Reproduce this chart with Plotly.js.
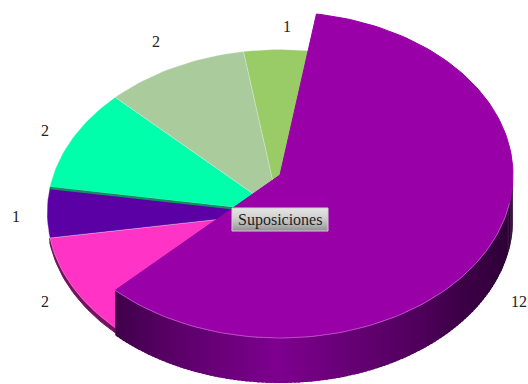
<!DOCTYPE html>
<html>
<head>
<meta charset="utf-8">
<script src="https://cdn.plot.ly/plotly-3.0.1.min.js"></script>
<style>html,body{margin:0;padding:0;background:#fff}#chart{width:528px;height:384px}</style>
</head>
<body>
<div id="chart"></div>
<script>
// Slice values, clockwise from the pulled-out slice
const values = [12, 2, 1, 2, 2, 1];
const colors = ['#9900A8', '#FF33C6', '#5A00A4', '#00FFAA', '#AACC9C', '#99CC66'];
const centerLabel = 'Suposiciones';
// Where each value label sits
const labelX = [519, 45, 16, 45, 156, 287];
const labelY = [301, 301, 216, 130, 41, 26];

// Tilted pie geometry, in axis units (the axes span the page one to one)
const CX = 280, CY = 212.5, RX = 233, RY = 163;
const PULL_Y = -37.5;      // pulled-out slice moves straight up
const DEPTH = 45;          // wall height of the pulled-out slice
const RIM = 5;             // wall height of the resting slices
const START = 9;           // degrees clockwise from the top

const total = values.reduce((a, b) => a + b, 0);
const rad = d => d * Math.PI / 180;
const px = d => CX + RX * Math.sin(rad(d));
const py = (d, dy) => CY + dy - RY * Math.cos(rad(d));

function arc(a, b, dy) {
  const xs = [], ys = [];
  const n = Math.max(2, Math.ceil(Math.abs(b - a) / 1.5));
  for (let i = 0; i <= n; i++) {
    const t = a + (b - a) * i / n;
    xs.push(px(t)); ys.push(py(t, dy));
  }
  return {xs, ys};
}
function poly(xs, ys, fill, line, width) {
  return {type: 'scatter', mode: 'lines', x: xs, y: ys, fill: 'toself', fillcolor: fill,
          line: {color: line || fill, width: width === undefined ? 1 : width}, hoverinfo: 'skip', showlegend: false};
}
function stroke(xs, ys, color, width) {
  return {type: 'scatter', mode: 'lines', x: xs, y: ys, line: {color, width}, hoverinfo: 'skip', showlegend: false};
}
function wedge(a, b, dy, fill, line, width) {
  const r = arc(a, b, dy);
  return poly([CX, ...r.xs, CX], [CY + dy, ...r.ys, CY + dy], fill, line, width);
}
function wall(a, b, top, bottom, color, width) {
  const t = arc(a, b, top), u = arc(b, a, bottom);
  return poly([...t.xs, ...u.xs, t.xs[0]], [...t.ys, ...u.ys, t.ys[0]], color, color, width);
}
// Wall shade: dark at both ends, brightest near the front
function wallShade(d) {
  const stops = [[90, [38, 0, 44]], [130, [62, 0, 72]], [180, [125, 0, 142]], [205, [92, 0, 106]], [225, [62, 0, 72]]];
  for (let i = 1; i < stops.length; i++) {
    if (d <= stops[i][0]) {
      const f = (d - stops[i - 1][0]) / (stops[i][0] - stops[i - 1][0]);
      const c = stops[i - 1][1].map((v, k) => Math.round(v + (stops[i][1][k] - v) * f));
      return `rgb(${c[0]},${c[1]},${c[2]})`;
    }
  }
  return 'rgb(62,0,72)';
}

// Angular span of every slice
const spans = [];
let angle = START;
values.forEach(v => { spans.push([angle, angle + v / total * 360]); angle += v / total * 360; });

const traces = [];

// Resting slices: thin rim of the lower-left slice, then the top faces
traces.push(wall(spans[1][0], spans[1][1], 0, RIM, '#74105F', 1));
for (let i = 1; i < values.length; i++) {
  traces.push(wedge(spans[i][0], spans[i][1], 0, colors[i], 'rgba(235,240,235,0.4)', 0.8));
}
// Cut face showing along the edge of the mint slice
const seam = spans[3][0];
traces.push(stroke([px(seam), CX], [py(seam, 0) + 1, CY + 1], '#0E8F63', 2.4));

// Pulled-out slice: shaded wall strips, then its top face
const wallFrom = 90, wallTo = spans[0][1], step = 1;
for (let d = wallFrom; d < wallTo; d += step) {
  traces.push(wall(d, Math.min(d + step * 1.6, wallTo), PULL_Y, PULL_Y + DEPTH, wallShade(d), 0));
}
traces.push(wedge(spans[0][0], spans[0][1], PULL_Y, colors[0]));
const front = arc(100, spans[0][1], PULL_Y);
traces.push(stroke(front.xs, front.ys, 'rgba(240,190,240,0.55)', 0.7));

const annotations = values.map((v, i) => ({
  x: labelX[i], y: labelY[i], xref: 'x', yref: 'y', text: String(v), showarrow: false,
  font: {family: '"Liberation Serif", serif', size: 16, color: '#222'}
}));
annotations.push({
  x: 280, y: 220, xref: 'x', yref: 'y', text: centerLabel, showarrow: false,
  font: {family: '"Liberation Serif", serif', size: 16, color: '#222'}
});

// Label plate with a vertical grey gradient
const shapes = [];
const plateTop = 208, plateBottom = 231, plateLeft = 232, plateRight = 328;
for (let y = plateTop; y < plateBottom; y++) {
  const f = (y - plateTop) / (plateBottom - plateTop - 1);
  const g = Math.round(226 - 60 * f * f - 20 * f);
  shapes.push({type: 'rect', xref: 'x', yref: 'y', x0: plateLeft, x1: plateRight, y0: y, y1: y + 1,
               fillcolor: `rgb(${g},${g},${g})`, line: {width: 0}});
}
shapes.push({type: 'rect', xref: 'x', yref: 'y', x0: plateLeft, x1: plateRight, y0: plateTop, y1: plateBottom,
             fillcolor: 'rgba(0,0,0,0)', line: {color: '#d0d0d0', width: 1}});

Plotly.newPlot('chart', traces, {
  width: 528, height: 384,
  margin: {l: 0, r: 0, t: 0, b: 0},
  paper_bgcolor: '#fff', plot_bgcolor: '#fff',
  showlegend: false,
  xaxis: {range: [0, 528], visible: false, fixedrange: true},
  yaxis: {range: [384, 0], visible: false, fixedrange: true},
  annotations, shapes
}, {displayModeBar: false, staticPlot: true});
</script>
</body>
</html>
